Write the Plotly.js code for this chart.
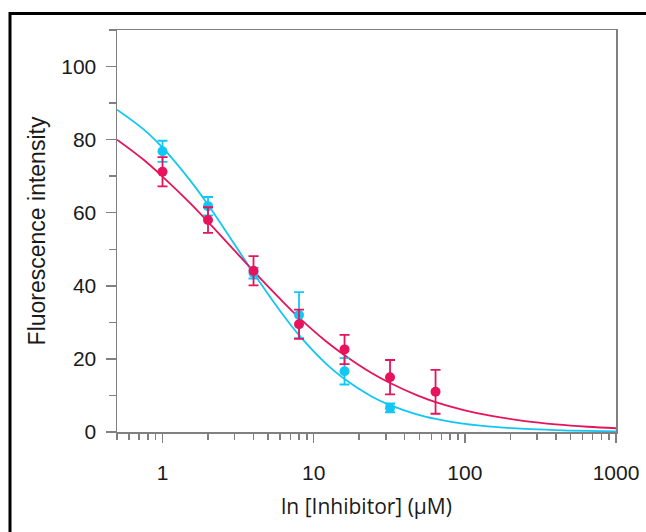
<!DOCTYPE html>
<html>
<head>
<meta charset="utf-8">
<script src="https://cdn.plot.ly/plotly-3.0.1.min.js"></script>
<style>html,body{margin:0;padding:0;background:#fff;}#chart{width:646px;height:532px;}</style>
</head>
<body>
<div id="chart"></div>
<script>
// Measured points (concentration in µM)
var conc = [1, 2, 4, 8, 16, 32, 64];
var blueConc = [1, 2, 4, 8, 16, 32];
var blueMean = [76.8, 61.8, 43.5, 32.0, 16.6, 6.6];
var blueErr  = [2.9, 2.5, 1.5, 6.3, 3.6, 1.2];
var redMean  = [71.2, 58.0, 44.1, 29.5, 22.6, 15.0, 11.0];
var redErr   = [4.0, 3.5, 4.0, 4.0, 4.0, 4.7, 6.0];

// Fitted curves
var curveX    = [0.5, 0.75, 1, 1.5, 2, 3, 4, 6, 8, 12, 16, 24, 32, 48, 64, 100, 150, 250, 400, 650, 1000];
var blueCurve = [88.2, 82.8, 77.8, 69.2, 62.2, 51.3, 43.5, 33.1, 26.5, 18.8, 14.5, 9.8, 7.35, 4.85, 3.6, 2.2, 1.45, 0.83, 0.5, 0.29, 0.18];
var redCurve  = [80.0, 74.5, 69.9, 62.9, 57.5, 49.6, 44.0, 36.4, 31.3, 24.9, 21.0, 16.2, 13.4, 10.1, 8.2, 5.95, 4.4, 3.0, 2.1, 1.44, 1.03];

var xTickVals = [1, 10, 100, 1000];
var xTickText = ['1', '10', '100', '1000'];
var xMinorVals = [0.5, 0.6, 0.7, 0.8, 0.9, 2, 3, 4, 5, 6, 7, 8, 9, 20, 30, 40, 50, 60, 70, 80, 90, 200, 300, 400, 500, 600, 700, 800, 900];
var yTickVals = [0, 20, 40, 60, 80, 100];
var yMinorVals = [10, 30, 50, 70, 90, 110];

var BLUE = '#12c7f4';
var RED = '#e6145c';

var traces = [
  {x: curveX, y: blueCurve, mode: 'lines', line: {color: BLUE, width: 1.8, shape: 'spline'}, hoverinfo: 'skip'},
  {x: curveX, y: redCurve, mode: 'lines', line: {color: RED, width: 1.8, shape: 'spline'}, hoverinfo: 'skip'},
  {x: blueConc, y: blueMean, mode: 'markers', marker: {color: BLUE, size: 10},
   error_y: {type: 'data', array: blueErr, visible: true, color: BLUE, thickness: 1.8, width: 5}},
  {x: conc, y: redMean, mode: 'markers', marker: {color: RED, size: 10},
   error_y: {type: 'data', array: redErr, visible: true, color: RED, thickness: 1.8, width: 5}}
];

var tickFont = {family: 'Liberation Sans, Arial, sans-serif', size: 21, color: '#1a1a1a'};
var xTitleFont = {family: 'Open Sans, sans-serif', size: 21, color: '#1a1a1a'};
var yTitleFont = {family: 'Liberation Sans, Arial, sans-serif', size: 23, color: '#1a1a1a'};

var layout = {
  width: 646, height: 532,
  margin: {l: 117, r: 30, t: 30, b: 100},
  paper_bgcolor: '#fff', plot_bgcolor: '#fff',
  showlegend: false,
  xaxis: {
    type: 'log', range: [Math.log10(0.5), 3],
    tickmode: 'array', tickvals: xTickVals, ticktext: xTickText,
    ticks: 'outside', ticklen: 9, tickwidth: 1.5, tickcolor: '#808080',
    minor: {tickmode: 'array', tickvals: xMinorVals, ticks: 'outside', ticklen: 6, tickwidth: 1.5, tickcolor: '#808080'},
    showline: true, linecolor: '#808080', linewidth: 1.5, mirror: true,
    showgrid: false, zeroline: false,
    tickfont: tickFont, ticklabelstandoff: 12,
    title: {text: 'ln [Inhibitor] (μM)', font: xTitleFont, standoff: 16}
  },
  yaxis: {
    range: [0, 110],
    tickmode: 'array', tickvals: yTickVals,
    ticks: 'outside', ticklen: 10, tickwidth: 1.5, tickcolor: '#808080',
    minor: {tickmode: 'array', tickvals: yMinorVals, ticks: 'outside', ticklen: 7, tickwidth: 1.5, tickcolor: '#808080'},
    showline: true, linecolor: '#808080', linewidth: 1.5, mirror: true,
    showgrid: false, zeroline: false,
    tickfont: tickFont, ticklabelstandoff: 5,
    title: {text: 'Fluorescence intensity', font: yTitleFont, standoff: 9}
  },
  shapes: [{
    type: 'rect', xref: 'paper', yref: 'paper',
    x0: (10 - 117) / 499, x1: 2, y0: (432 - 13.5) / 402, y1: -2,
    line: {color: '#000', width: 3}, fillcolor: 'rgba(0,0,0,0)', layer: 'above'
  }]
};

Plotly.newPlot('chart', traces, layout, {displayModeBar: false, staticPlot: true});
</script>
</body>
</html>
